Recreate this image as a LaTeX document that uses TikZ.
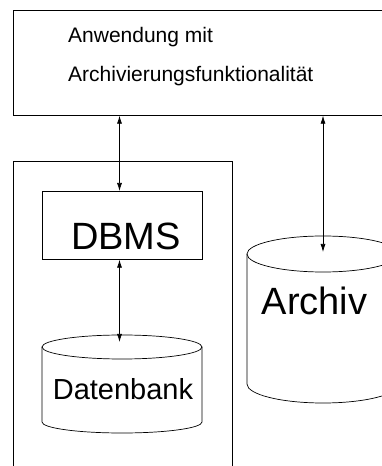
\documentclass[tikz,border=0pt]{standalone}
\usepackage{fontspec}
\setmainfont{Liberation Sans}
\usetikzlibrary{arrows.meta}

\tikzset{
  box/.style={draw,rectangle,line width=0.7pt,inner sep=0pt},
  conn/.style={<->,>={Latex[length=8pt,width=5pt]},line width=0.7pt},
}

\begin{document}
\begin{tikzpicture}[x=1pt,y=1pt]
	\useasboundingbox (0,0) rectangle (382,466);
	\clip (0,0) rectangle (382,466);

	% Anwendung
	\node[box,anchor=north west,minimum width=385pt,minimum height=105pt] (app) at (13,456) {};
	\node[anchor=base west,inner sep=0pt,font=\fontsize{21}{25}\selectfont] (apptxt) at (68,423) {Anwendung mit};
	\node[anchor=base west,inner sep=0pt,font=\fontsize{21}{25}\selectfont] (apptxtb) at (68,384) {Archivierungsfunktionalität};

	% Datenbanksystem
	\node[box,anchor=north west,minimum width=219pt,minimum height=320pt] (dbsys) at (13,305) {};
	\node[box,anchor=north west,minimum width=160pt,minimum height=68pt] (dbms) at (42,275) {};
	\node[anchor=base,inner sep=0pt,font=\fontsize{38}{40}\selectfont] (dbmstxt) at (126,216) {DBMS};

	\coordinate (db) at (122,119);
	\begin{scope}[line width=0.7pt]
	    \draw (42,119) -- (42,44) arc[start angle=180,end angle=360,x radius=80,y radius=11] -- (202,119);
	    \draw (db) ellipse [x radius=80,y radius=12];
	\end{scope}
	\node[anchor=base,inner sep=0pt,font=\fontsize{29}{32}\selectfont] (dbtxt) at (123,66) {Datenbank};

	% Archiv
	\coordinate (archiv) at (323,212);
	\begin{scope}[line width=0.7pt]
	    \draw (247,212) -- (247,82) arc[start angle=180,end angle=360,x radius=76,y radius=19] -- (399,212);
	    \draw (archiv) ellipse [x radius=76,y radius=18];
	\end{scope}
	\node[anchor=base,inner sep=0pt,font=\fontsize{38}{40}\selectfont] (archivtxt) at (314.5,151) {Archiv};

	% Verbindungen
	\coordinate (ax) at (119.5,0);
	\coordinate (dbin) at (119.5,124);
	\coordinate (arin) at (323,214);
	\draw[conn] (app.south -| ax) -- (dbms.north -| ax);
	\draw[conn] (dbms.south -| ax) -- (dbin);
	\draw[conn] (app.south -| arin) -- (arin);
\end{tikzpicture}
\end{document}
